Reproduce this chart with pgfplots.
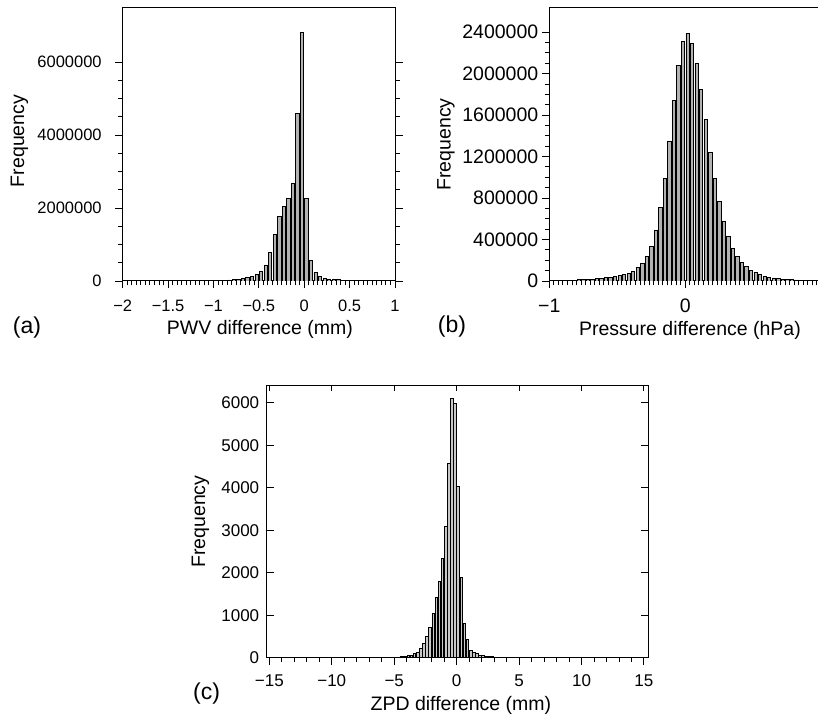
\documentclass[border=0pt]{standalone}
\usepackage{fontspec}
\setmainfont{Liberation Sans}
\usepackage{pgfplots}
\pgfplotsset{compat=1.18}
\definecolor{barfill}{RGB}{178,178,178}
\definecolor{barfillc}{RGB}{200,200,200}
\pgfplotsset{
  panel/.style={
    scale only axis, anchor=south west, ymin=0,
    axis line style={line width=1pt},
    tick style={black, line width=0.9pt},
    major tick length=7.5pt, minor tick length=4.5pt,
    scaled x ticks=false, scaled y ticks=false,
    label style={font=\fontsize{19.5}{20}\selectfont},
  },
  hbar/.style={ybar, bar shift=0pt, fill=barfill, draw=black, line width=0.8pt},
}
\begin{document}
\begin{tikzpicture}
\useasboundingbox (0,0) rectangle (818pt,714pt);

% (a) PWV
\begin{axis}[panel,
  at={(122.7pt,433pt)}, width=272.3pt, height=273pt,
  xmin=-2, xmax=1, ymax=7480000,
  tick align=outside,
  xtick pos=left, ytick pos=both, yticklabel pos=left,
  xtick={-2,-1.5,-1,-0.5,0,0.5,1},
  xticklabels={−2,−1.5,−1,−0.5,0,0.5,1},
  minor x tick num=9,
  ytick={0,2000000,4000000,6000000},
  yticklabels={0,2000000,4000000,6000000},
  minor y tick num=3,
  xticklabel shift=8pt, yticklabel shift=10pt,
  tick label style={font=\fontsize{16.5}{17}\selectfont},
  xlabel={PWV difference (mm)},
  xlabel style={at={(axis description cs:0.504,-0.178)}, anchor=center},
  ylabel={Frequency},
  ylabel style={at={(axis description cs:-0.379,0.513)}, anchor=center},
]
\addplot[hbar, bar width=0.036] coordinates {
(-1.175,3000) (-1.125,4000) (-1.075,6000) (-1.025,9000) (-0.975,13000)
(-0.925,17000) (-0.875,22000) (-0.825,28000) (-0.775,36000) (-0.725,47000)
(-0.675,60000) (-0.625,90000) (-0.575,130000) (-0.525,170000) (-0.475,255000)
(-0.425,440000) (-0.375,776000) (-0.325,1280000) (-0.275,1770000) (-0.225,2040000)
(-0.175,2260000) (-0.125,2670000) (-0.075,4590000) (-0.025,6810000) (0.025,2260000)
(0.075,575000) (0.125,237000) (0.175,128000) (0.225,73000) (0.275,55000)
(0.325,45000) (0.375,35000) (0.425,27000) (0.475,18000) (0.525,12000)
(0.575,8000) (0.625,5000)
};
\end{axis}

% (b) Pressure
\begin{axis}[panel,
  at={(549.3pt,433pt)}, width=272pt, height=273.7pt,
  xmin=-1, xmax=1, ymax=2640000,
  tick align=outside,
  xtick pos=left, ytick pos=left,
  xtick={-1,0,1},
  xticklabels={−1,0,{}},
  minor x tick num=29,
  ytick={0,400000,800000,1200000,1600000,2000000,2400000},
  yticklabels={0,400000,800000,1200000,1600000,2000000,2400000},
  minor y tick num=3,
  xticklabel shift=7pt,
  tick label style={font=\fontsize{19.5}{20}\selectfont},
  xlabel={Pressure difference (hPa)},
  xlabel style={at={(axis description cs:0.517,-0.180)}, anchor=center},
  ylabel={Frequency},
  ylabel style={at={(axis description cs:-0.380,0.499)}, anchor=center},
]
\addplot[hbar, bar width=0.0245] coordinates {
(-0.9833,4000) (-0.95,5000) (-0.9167,6000) (-0.8833,7000) (-0.85,8000)
(-0.8167,9000) (-0.7833,11000) (-0.75,13000) (-0.7167,16000) (-0.6833,19000)
(-0.65,22000) (-0.6167,26000) (-0.5833,31000) (-0.55,37000) (-0.5167,44000)
(-0.4833,52000) (-0.45,62000) (-0.4167,75000) (-0.3833,96000) (-0.35,128000)
(-0.3167,170000) (-0.2833,237000) (-0.25,336000) (-0.2167,486000) (-0.1833,710000)
(-0.15,992000) (-0.1167,1350000) (-0.0833,1740000) (-0.05,2080000) (-0.0167,2310000)
(0.0167,2387000) (0.05,2290000) (0.0833,2100000) (0.1167,1850000) (0.15,1555000)
(0.1833,1240000) (0.2167,989000) (0.25,768000) (0.2833,579000) (0.3167,426000)
(0.35,317000) (0.3833,237000) (0.4167,179000) (0.45,138000) (0.4833,106000)
(0.5167,80000) (0.55,61000) (0.5833,48000) (0.6167,38000) (0.65,29000)
(0.6833,22000) (0.7167,19000) (0.75,16000) (0.7833,13000) (0.8167,10000)
(0.85,9000) (0.8833,7000) (0.9167,6000) (0.95,5000) (0.9833,4000)
};
\end{axis}

% (c) ZPD
\begin{axis}[panel,
  at={(266.7pt,56.3pt)}, width=381.6pt, height=272pt,
  xmin=-15.21, xmax=15.35, ymax=6400,
  xtick align=outside, ytick align=inside,
  xtick pos=left, ytick pos=both, yticklabel pos=left,
  xtick={-15,-10,-5,0,5,10,15},
  xticklabels={−15,−10,−5,0,5,10,15},
  minor x tick num=4,
  ytick={0,1000,2000,3000,4000,5000,6000},
  yticklabels={0,1000,2000,3000,4000,5000,6000},
  xticklabel shift=6pt, yticklabel shift=4pt,
  tick label style={font=\fontsize{17}{18}\selectfont},
  xlabel={ZPD difference (mm)},
  xlabel style={at={(axis description cs:0.509,-0.174)}, anchor=center},
  ylabel={Frequency},
  ylabel style={at={(axis description cs:-0.1735,0.5)}, anchor=center},
]
\addplot[hbar, fill=barfillc, bar width=0.21] coordinates {
(-6.125,4) (-5.875,5) (-5.625,6) (-5.375,8) (-5.125,10)
(-4.875,13) (-4.625,17) (-4.375,23) (-4.125,31) (-3.875,47)
(-3.625,63) (-3.375,94) (-3.125,133) (-2.875,212) (-2.625,337)
(-2.375,510) (-2.125,722) (-1.875,1035) (-1.625,1427) (-1.375,1796)
(-1.125,2329) (-0.875,3082) (-0.625,4573) (-0.375,6110) (-0.125,5984)
(0.125,4031) (0.375,1898) (0.625,808) (0.875,424) (1.125,180)
(1.375,133) (1.625,94) (1.875,63) (2.125,47) (2.375,39)
(2.625,31) (2.875,24) (3.125,18) (3.375,14) (3.625,11)
(3.875,9) (4.125,7) (4.375,6) (4.625,5) (4.875,4)
};
\end{axis}
% top ticks of (c), pointing inward
\begin{axis}[panel,
  at={(266.7pt,56.3pt)}, width=381.6pt, height=272pt,
  xmin=-15.21, xmax=15.35, ymax=6400,
  tick align=inside, major tick length=5pt,
  xtick pos=right, xticklabels={},
  xtick={-15,-10,-5,0,5,10,15}, ytick=\empty,
]
\end{axis}

\node[font=\fontsize{23}{24}\selectfont] at (27pt,386pt) {(a)};
\node[font=\fontsize{23}{24}\selectfont] at (452pt,387pt) {(b)};
\node[font=\fontsize{23}{24}\selectfont] at (206.5pt,20pt) {(c)};
\end{tikzpicture}
\end{document}
